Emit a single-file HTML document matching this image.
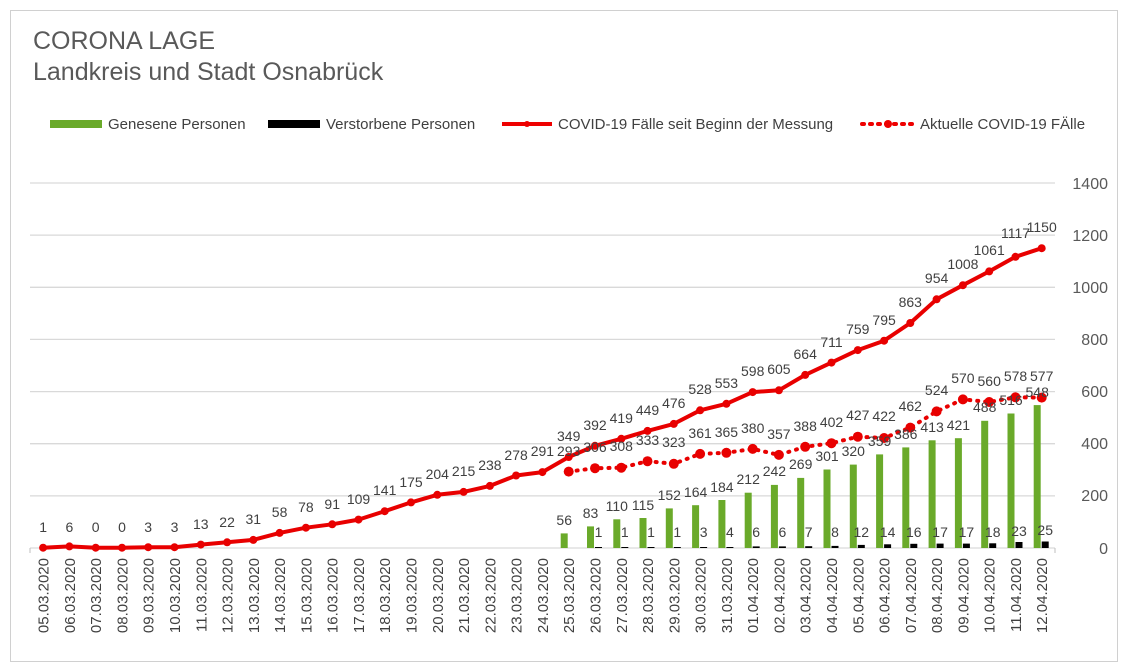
<!DOCTYPE html>
<html><head><meta charset="utf-8"><style>
body{margin:0;background:#fff}
svg{display:block;font-family:"Liberation Sans",Arial,sans-serif}
.c{font-size:14px;fill:#404040;text-anchor:middle}
.d{font-size:14px;fill:#404040}
.x{font-size:15px;fill:#404040;text-anchor:end}
.y{font-size:16px;fill:#595959;text-anchor:end}
</style></head><body>
<svg width="1128" height="672" viewBox="0 0 1128 672">
<rect x="10.5" y="10.5" width="1107" height="651" fill="#fff" stroke="#d0d0d0"/>
<text x="33" y="49" font-size="25" fill="#595959">CORONA LAGE</text>
<text x="33" y="80" font-size="25" fill="#595959">Landkreis und Stadt Osnabrück</text>
<g font-size="15" fill="#404040">
<rect x="50" y="120" width="52" height="8" fill="#6aaa2a"/><text x="108" y="129">Genesene Personen</text>
<rect x="268" y="120" width="52" height="8" fill="#000"/><text x="326" y="129">Verstorbene Personen</text>
<line x1="502" y1="124" x2="552" y2="124" stroke="#e00" stroke-width="4"/><circle cx="527" cy="124" r="3" fill="#e00"/><text x="558" y="129">COVID-19 Fälle seit Beginn der Messung</text>
<line x1="862" y1="124" x2="914" y2="124" stroke="#e00" stroke-width="4" stroke-dasharray="2 6" stroke-linecap="round"/><circle cx="888" cy="124" r="4" fill="#e00"/><text x="920" y="129">Aktuelle COVID-19 FÄlle</text>
</g>
<g stroke="#d9d9d9" stroke-width="1.3">
<line x1="30" y1="183" x2="1055" y2="183"/><line x1="30" y1="235.1" x2="1055" y2="235.1"/><line x1="30" y1="287.3" x2="1055" y2="287.3"/><line x1="30" y1="339.4" x2="1055" y2="339.4"/><line x1="30" y1="391.6" x2="1055" y2="391.6"/><line x1="30" y1="443.7" x2="1055" y2="443.7"/><line x1="30" y1="495.9" x2="1055" y2="495.9"/><line x1="30" y1="548" x2="1055" y2="548"/>
</g>
<g class="y"><text x="1108" y="189">1400</text><text x="1108" y="241">1200</text><text x="1108" y="293">1000</text><text x="1108" y="345">800</text><text x="1108" y="397">600</text><text x="1108" y="449">400</text><text x="1108" y="501">200</text><text x="1108" y="554">0</text></g>
<!-- green bars -->
<g fill="#6aaa2a">
<rect x="560.7" y="533.4" width="7" height="14.6"/><rect x="587" y="526.4" width="7" height="21.6"/><rect x="613.3" y="519.3" width="7" height="28.7"/><rect x="639.5" y="518" width="7" height="30"/><rect x="665.8" y="508.4" width="7" height="39.6"/><rect x="692.1" y="505.2" width="7" height="42.8"/><rect x="718.4" y="500" width="7" height="48"/><rect x="744.7" y="492.7" width="7" height="55.3"/><rect x="770.9" y="484.9" width="7" height="63.1"/><rect x="797.2" y="477.9" width="7" height="70.1"/><rect x="823.5" y="469.5" width="7" height="78.5"/><rect x="849.8" y="464.6" width="7" height="83.4"/><rect x="876.1" y="454.4" width="7" height="93.6"/><rect x="902.3" y="447.4" width="7" height="100.6"/><rect x="928.6" y="440.3" width="7" height="107.7"/><rect x="954.9" y="438.2" width="7" height="109.8"/><rect x="981.2" y="420.8" width="7" height="127.2"/><rect x="1007.5" y="413.5" width="7" height="134.5"/><rect x="1033.7" y="405.1" width="7" height="142.9"/>
</g>
<g fill="#000">
<rect x="595" y="547" width="7" height="1"/><rect x="621.3" y="547" width="7" height="1"/><rect x="647.5" y="547" width="7" height="1"/><rect x="673.8" y="547" width="7" height="1"/><rect x="700.1" y="547" width="7" height="1"/><rect x="726.4" y="547" width="7" height="1"/><rect x="752.7" y="546.4" width="7" height="1.6"/><rect x="778.9" y="546.4" width="7" height="1.6"/><rect x="805.2" y="546.2" width="7" height="1.8"/><rect x="831.5" y="545.9" width="7" height="2.1"/><rect x="857.8" y="544.9" width="7" height="3.1"/><rect x="884.1" y="544.3" width="7" height="3.7"/><rect x="910.3" y="543.8" width="7" height="4.2"/><rect x="936.6" y="543.6" width="7" height="4.4"/><rect x="962.9" y="543.6" width="7" height="4.4"/><rect x="989.2" y="543.3" width="7" height="4.7"/><rect x="1015.5" y="542" width="7" height="6"/><rect x="1041.7" y="541.5" width="7" height="6.5"/>
</g>
<g stroke="#bfbfbf"><line x1="30" y1="548" x2="30" y2="553"/><line x1="1055" y1="548" x2="1055" y2="553"/></g>
<!-- cumulative line -->
<polyline fill="none" stroke="#e80000" stroke-width="4" stroke-linejoin="round" points="43.1,547.7 69.4,546.4 95.7,547.7 122,547.7 148.2,547.2 174.5,547.2 200.8,544.6 227.1,542.3 253.3,539.9 279.6,532.9 305.9,527.7 332.2,524.3 358.5,519.6 384.7,511.2 411,502.4 437.3,494.8 463.6,491.9 489.9,485.9 516.1,475.5 542.4,472.1 568.7,457 595,445.8 621.3,438.8 647.5,430.9 673.8,423.9 700.1,410.3 726.4,403.8 752.7,392.1 778.9,390.3 805.2,374.9 831.5,362.6 857.8,350.1 884.1,340.7 910.3,323 936.6,299.3 962.9,285.2 989.2,271.4 1015.5,256.8 1041.7,248.2"/>
<g fill="#e80000">
<circle cx="43.1" cy="547.7" r="4"/><circle cx="69.4" cy="546.4" r="4"/><circle cx="95.7" cy="547.7" r="4"/><circle cx="122" cy="547.7" r="4"/><circle cx="148.2" cy="547.2" r="4"/><circle cx="174.5" cy="547.2" r="4"/><circle cx="200.8" cy="544.6" r="4"/><circle cx="227.1" cy="542.3" r="4"/><circle cx="253.3" cy="539.9" r="4"/><circle cx="279.6" cy="532.9" r="4"/><circle cx="305.9" cy="527.7" r="4"/><circle cx="332.2" cy="524.3" r="4"/><circle cx="358.5" cy="519.6" r="4"/><circle cx="384.7" cy="511.2" r="4"/><circle cx="411" cy="502.4" r="4"/><circle cx="437.3" cy="494.8" r="4"/><circle cx="463.6" cy="491.9" r="4"/><circle cx="489.9" cy="485.9" r="4"/><circle cx="516.1" cy="475.5" r="4"/><circle cx="542.4" cy="472.1" r="4"/><circle cx="568.7" cy="457" r="4"/><circle cx="595" cy="445.8" r="4"/><circle cx="621.3" cy="438.8" r="4"/><circle cx="647.5" cy="430.9" r="4"/><circle cx="673.8" cy="423.9" r="4"/><circle cx="700.1" cy="410.3" r="4"/><circle cx="726.4" cy="403.8" r="4"/><circle cx="752.7" cy="392.1" r="4"/><circle cx="778.9" cy="390.3" r="4"/><circle cx="805.2" cy="374.9" r="4"/><circle cx="831.5" cy="362.6" r="4"/><circle cx="857.8" cy="350.1" r="4"/><circle cx="884.1" cy="340.7" r="4"/><circle cx="910.3" cy="323" r="4"/><circle cx="936.6" cy="299.3" r="4"/><circle cx="962.9" cy="285.2" r="4"/><circle cx="989.2" cy="271.4" r="4"/><circle cx="1015.5" cy="256.8" r="4"/><circle cx="1041.7" cy="248.2" r="4"/>
</g>
<!-- current dotted -->
<polyline fill="none" stroke="#e80000" stroke-width="4" stroke-dasharray="1 7" stroke-linecap="round" points="568.7,471.6 595,468.2 621.3,467.7 647.5,461.2 673.8,463.8 700.1,453.9 726.4,452.8 752.7,448.9 778.9,454.9 805.2,446.8 831.5,443.2 857.8,436.7 884.1,438 910.3,427.6 936.6,411.4 962.9,399.4 989.2,402 1015.5,397.3 1041.7,397.6"/>
<g fill="#e80000">
<circle cx="568.7" cy="471.6" r="5"/><circle cx="595" cy="468.2" r="5"/><circle cx="621.3" cy="467.7" r="5"/><circle cx="647.5" cy="461.2" r="5"/><circle cx="673.8" cy="463.8" r="5"/><circle cx="700.1" cy="453.9" r="5"/><circle cx="726.4" cy="452.8" r="5"/><circle cx="752.7" cy="448.9" r="5"/><circle cx="778.9" cy="454.9" r="5"/><circle cx="805.2" cy="446.8" r="5"/><circle cx="831.5" cy="443.2" r="5"/><circle cx="857.8" cy="436.7" r="5"/><circle cx="884.1" cy="438" r="5"/><circle cx="910.3" cy="427.6" r="5"/><circle cx="936.6" cy="411.4" r="5"/><circle cx="962.9" cy="399.4" r="5"/><circle cx="989.2" cy="402" r="5"/><circle cx="1015.5" cy="397.3" r="5"/><circle cx="1041.7" cy="397.6" r="5"/>
</g>
<!-- cumulative labels -->
<g class="c">
<text x="43.1" y="532">1</text><text x="69.4" y="532">6</text><text x="95.7" y="532">0</text><text x="122" y="532">0</text><text x="148.2" y="532">3</text><text x="174.5" y="532">3</text><text x="200.8" y="529">13</text><text x="227.1" y="527">22</text><text x="253.3" y="524">31</text><text x="279.6" y="517">58</text><text x="305.9" y="512">78</text><text x="332.2" y="509">91</text><text x="358.5" y="504">109</text><text x="384.7" y="495">141</text><text x="411" y="487">175</text><text x="437.3" y="479">204</text><text x="463.6" y="476">215</text><text x="489.9" y="470">238</text><text x="516.1" y="460">278</text><text x="542.4" y="456">291</text><text x="568.7" y="441">349</text><text x="595" y="430">392</text><text x="621.3" y="423">419</text><text x="647.5" y="415">449</text><text x="673.8" y="408">476</text><text x="700.1" y="394">528</text><text x="726.4" y="388">553</text><text x="752.7" y="376">598</text><text x="778.9" y="374">605</text><text x="805.2" y="359">664</text><text x="831.5" y="347">711</text><text x="857.8" y="334">759</text><text x="884.1" y="325">795</text><text x="910.3" y="307">863</text><text x="936.6" y="283">954</text><text x="962.9" y="269">1008</text><text x="989.2" y="255">1061</text><text x="1015.5" y="238">1117</text><text x="1041.7" y="232">1150</text>
</g>
<!-- current labels -->
<g class="c">
<text x="568.7" y="456">293</text><text x="595" y="452">306</text><text x="621.3" y="451">308</text><text x="647.5" y="445">333</text><text x="673.8" y="447">323</text><text x="700.1" y="438">361</text><text x="726.4" y="437">365</text><text x="752.7" y="433">380</text><text x="778.9" y="439">357</text><text x="805.2" y="431">388</text><text x="831.5" y="427">402</text><text x="857.8" y="420">427</text><text x="884.1" y="421">422</text><text x="910.3" y="411">462</text><text x="936.6" y="395">524</text><text x="962.9" y="383">570</text><text x="989.2" y="386">560</text><text x="1015.5" y="381">578</text><text x="1041.7" y="381">577</text>
</g>
<!-- recovered labels -->
<g class="c">
<text x="564.2" y="525">56</text><text x="590.5" y="518">83</text><text x="616.8" y="511">110</text><text x="643" y="510">115</text><text x="669.3" y="500">152</text><text x="695.6" y="497">164</text><text x="721.9" y="492">184</text><text x="748.2" y="484">212</text><text x="774.4" y="476">242</text><text x="800.7" y="469">269</text><text x="827" y="461">301</text><text x="853.3" y="456">320</text><text x="879.6" y="446">359</text><text x="905.8" y="439">386</text><text x="932.1" y="432">413</text><text x="958.4" y="430">421</text><text x="984.7" y="412">488</text><text x="1011" y="405">516</text><text x="1037.2" y="397">548</text>
</g>
<!-- death labels -->
<g class="c">
<text x="598.5" y="537">1</text><text x="624.8" y="537">1</text><text x="651" y="537">1</text><text x="677.3" y="537">1</text><text x="703.6" y="537">3</text><text x="729.9" y="537">4</text><text x="756.2" y="537">6</text><text x="782.4" y="537">6</text><text x="808.7" y="537">7</text><text x="835" y="537">8</text><text x="861.3" y="537">12</text><text x="887.6" y="537">14</text><text x="913.8" y="537">16</text><text x="940.1" y="537">17</text><text x="966.4" y="537">17</text><text x="992.7" y="537">18</text><text x="1019" y="536">23</text><text x="1045.2" y="535">25</text>
</g>
<!-- date labels -->
<g class="x">
<text transform="translate(48.6,558) rotate(-90)">05.03.2020</text><text transform="translate(74.9,558) rotate(-90)">06.03.2020</text><text transform="translate(101.2,558) rotate(-90)">07.03.2020</text><text transform="translate(127.5,558) rotate(-90)">08.03.2020</text><text transform="translate(153.7,558) rotate(-90)">09.03.2020</text><text transform="translate(180,558) rotate(-90)">10.03.2020</text><text transform="translate(206.3,558) rotate(-90)">11.03.2020</text><text transform="translate(232.6,558) rotate(-90)">12.03.2020</text><text transform="translate(258.8,558) rotate(-90)">13.03.2020</text><text transform="translate(285.1,558) rotate(-90)">14.03.2020</text><text transform="translate(311.4,558) rotate(-90)">15.03.2020</text><text transform="translate(337.7,558) rotate(-90)">16.03.2020</text><text transform="translate(364,558) rotate(-90)">17.03.2020</text><text transform="translate(390.2,558) rotate(-90)">18.03.2020</text><text transform="translate(416.5,558) rotate(-90)">19.03.2020</text><text transform="translate(442.8,558) rotate(-90)">20.03.2020</text><text transform="translate(469.1,558) rotate(-90)">21.03.2020</text><text transform="translate(495.4,558) rotate(-90)">22.03.2020</text><text transform="translate(521.6,558) rotate(-90)">23.03.2020</text><text transform="translate(547.9,558) rotate(-90)">24.03.2020</text><text transform="translate(574.2,558) rotate(-90)">25.03.2020</text><text transform="translate(600.5,558) rotate(-90)">26.03.2020</text><text transform="translate(626.8,558) rotate(-90)">27.03.2020</text><text transform="translate(653,558) rotate(-90)">28.03.2020</text><text transform="translate(679.3,558) rotate(-90)">29.03.2020</text><text transform="translate(705.6,558) rotate(-90)">30.03.2020</text><text transform="translate(731.9,558) rotate(-90)">31.03.2020</text><text transform="translate(758.2,558) rotate(-90)">01.04.2020</text><text transform="translate(784.4,558) rotate(-90)">02.04.2020</text><text transform="translate(810.7,558) rotate(-90)">03.04.2020</text><text transform="translate(837,558) rotate(-90)">04.04.2020</text><text transform="translate(863.3,558) rotate(-90)">05.04.2020</text><text transform="translate(889.6,558) rotate(-90)">06.04.2020</text><text transform="translate(915.8,558) rotate(-90)">07.04.2020</text><text transform="translate(942.1,558) rotate(-90)">08.04.2020</text><text transform="translate(968.4,558) rotate(-90)">09.04.2020</text><text transform="translate(994.7,558) rotate(-90)">10.04.2020</text><text transform="translate(1021,558) rotate(-90)">11.04.2020</text><text transform="translate(1047.2,558) rotate(-90)">12.04.2020</text>
</g>
</svg>
</body></html>
